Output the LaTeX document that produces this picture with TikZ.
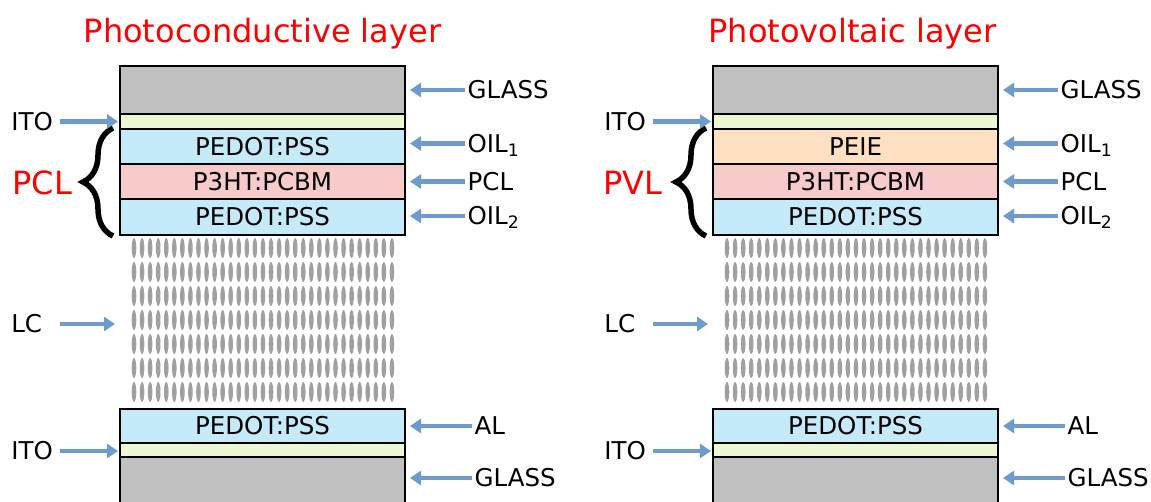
\documentclass[tikz,border=0pt]{standalone}
\usepackage{fontspec}
\setmainfont{DejaVu Sans}
\usetikzlibrary{arrows.meta, positioning, decorations.pathreplacing}
\definecolor{cglass}{HTML}{C0C0C0}
\definecolor{cito}{HTML}{EBF8D2}
\definecolor{cpedot}{HTML}{C5EBFA}
\definecolor{cpcbm}{HTML}{F8CBCB}
\definecolor{cpeie}{HTML}{FFE0C2}
\definecolor{carrow}{HTML}{6E9BCD}
\definecolor{clc}{HTML}{A0A0A0}
\definecolor{cred}{HTML}{FF0000}
\tikzset{
  every picture/.style={line width=1.3pt},
  layer/.style={draw=black, fill=#1, minimum width=285pt, inner sep=0pt, outer sep=0pt, font=\fontsize{24.5}{28}\selectfont},
  zone/.style={minimum width=285pt, inner sep=0pt, outer sep=0pt},
  arrow/.style={-{Triangle[length=11pt, width=14pt]}, draw=carrow, line width=4.5pt},
  tag/.style={font=\fontsize{24.5}{28}\selectfont, inner sep=2pt, text height=17.5pt, text depth=0pt},
  ltag/.style={tag, inner sep=0pt, text width=48pt, align=left},
  title/.style={font=\fontsize{32}{36}\selectfont, text=cred, inner sep=0pt},
  brace/.style={decorate, decoration={brace, amplitude=30pt}, line width=5.5pt},
}

\begin{document}
\begin{tikzpicture}[x=1pt, y=-1pt]
  \useasboundingbox (0,0) rectangle (1151,501);
  % photoconductive stack
  \begin{scope}
    \node[title, anchor=base] (pctitle) at (262.5,42.5) {Photoconductive layer};
    \node[layer=cglass, minimum height=48pt, anchor=north west] (pcglass) at (120,66) {};
    \node[layer=cito, minimum height=15pt, below=0pt of pcglass] (pcito) {};
    \node[layer=cpedot, minimum height=35pt, below=0pt of pcito] (pcoil1) {PEDOT:PSS};
    \node[layer=cpcbm, minimum height=35pt, below=0pt of pcoil1] (pcpcl) {P3HT:PCBM};
    \node[layer=cpedot, minimum height=36pt, below=0pt of pcpcl] (pcoil2) {PEDOT:PSS};
    \node[zone, minimum height=166pt, below=2pt of pcoil2] (pclc) {};
    \node[layer=cpedot, minimum height=34pt, below=6pt of pclc] (pcal) {PEDOT:PSS};
    \node[layer=cito, minimum height=14pt, below=0pt of pcal] (pcitob) {};
    \node[layer=cglass, minimum height=46pt, below=0pt of pcitob] (pcglassb) {};
    \foreach \r in {0,...,6}
      \foreach \c in {0,...,32}
        \fill[clc] ([xshift={14pt+\c*8.06pt}, yshift={-11pt-\r*24pt}]pclc.north west) ellipse (2.3pt and 10pt);
    \draw[brace] ([xshift=-7pt, yshift=-1pt]pcoil2.south west) -- ([xshift=-7pt, yshift=1pt]pcoil1.north west);
    \node[title, anchor=base west] (pcname) at (12,194) {PCL};
    % labels
    \node[tag, anchor=west] (pcglassr) at ([xshift=60pt]pcglass.east) {GLASS};
    \node[tag, anchor=west] (pcoil1r) at ([xshift=60pt, yshift=3pt]pcoil1.east) {OIL\textsubscript{1}};
    \node[tag, anchor=west] (pcpclr) at ([xshift=60pt]pcpcl.east) {PCL};
    \node[tag, anchor=west] (pcoil2r) at ([xshift=60pt, yshift=1pt]pcoil2.east) {OIL\textsubscript{2}};
    \node[tag, anchor=west] (pcalr) at ([xshift=67pt]pcal.east) {AL};
    \node[tag, anchor=west] (pcglassbr) at ([xshift=67pt, yshift=2pt]pcglassb.east) {GLASS};
    \node[ltag, anchor=east] (pcitol) at ([xshift=-60pt]pcito.west) {ITO};
    \node[ltag, anchor=east] (pclcl) at ([xshift=-60pt, yshift=-4pt]pclc.west) {LC};
    \node[ltag, anchor=east] (pcitobl) at ([xshift=-60pt, yshift=-1pt]pcitob.west) {ITO};
    \draw[arrow, shorten >=5pt] (pcglassr.west) -- (pcglassr.west -| pcglass.east);
    \draw[arrow, shorten >=5pt] (pcoil1r.west) -- (pcoil1r.west -| pcoil1.east);
    \draw[arrow, shorten >=5pt] (pcpclr.west) -- (pcpclr.west -| pcpcl.east);
    \draw[arrow, shorten >=5pt] (pcoil2r.west) -- (pcoil2r.west -| pcoil2.east);
    \draw[arrow, shorten >=5pt] (pcalr.west) -- (pcalr.west -| pcal.east);
    \draw[arrow, shorten >=5pt] (pcglassbr.west) -- (pcglassbr.west -| pcglassb.east);
    \draw[arrow, shorten >=2pt] (pcitol.east) -- (pcitol.east -| pcito.west);
    \draw[arrow, shorten >=5pt] (pclcl.east) -- (pclcl.east -| pclc.west);
    \draw[arrow, shorten >=2pt] (pcitobl.east) -- (pcitobl.east -| pcitob.west);
  \end{scope}
  % photovoltaic stack
  \begin{scope}[xshift=593pt]
    \node[title, anchor=base] (pvtitle) at (259.5,42.5) {Photovoltaic layer};
    \node[layer=cglass, minimum height=48pt, anchor=north west] (pvglass) at (120,66) {};
    \node[layer=cito, minimum height=15pt, below=0pt of pvglass] (pvito) {};
    \node[layer=cpeie, minimum height=35pt, below=0pt of pvito] (pvoil1) {PEIE};
    \node[layer=cpcbm, minimum height=35pt, below=0pt of pvoil1] (pvpcl) {P3HT:PCBM};
    \node[layer=cpedot, minimum height=36pt, below=0pt of pvpcl] (pvoil2) {PEDOT:PSS};
    \node[zone, minimum height=166pt, below=2pt of pvoil2] (pvlc) {};
    \node[layer=cpedot, minimum height=34pt, below=6pt of pvlc] (pval) {PEDOT:PSS};
    \node[layer=cito, minimum height=14pt, below=0pt of pval] (pvitob) {};
    \node[layer=cglass, minimum height=46pt, below=0pt of pvitob] (pvglassb) {};
    \foreach \r in {0,...,6}
      \foreach \c in {0,...,32}
        \fill[clc] ([xshift={14pt+\c*8.06pt}, yshift={-11pt-\r*24pt}]pvlc.north west) ellipse (2.3pt and 10pt);
    \draw[brace] ([xshift=-7pt, yshift=-1pt]pvoil2.south west) -- ([xshift=-7pt, yshift=1pt]pvoil1.north west);
    \node[title, anchor=base west] (pvname) at (10,194) {PVL};
    % labels
    \node[tag, anchor=west] (pvglassr) at ([xshift=60pt]pvglass.east) {GLASS};
    \node[tag, anchor=west] (pvoil1r) at ([xshift=60pt, yshift=3pt]pvoil1.east) {OIL\textsubscript{1}};
    \node[tag, anchor=west] (pvpclr) at ([xshift=60pt]pvpcl.east) {PCL};
    \node[tag, anchor=west] (pvoil2r) at ([xshift=60pt, yshift=1pt]pvoil2.east) {OIL\textsubscript{2}};
    \node[tag, anchor=west] (pvalr) at ([xshift=67pt]pval.east) {AL};
    \node[tag, anchor=west] (pvglassbr) at ([xshift=67pt, yshift=2pt]pvglassb.east) {GLASS};
    \node[ltag, anchor=east] (pvitol) at ([xshift=-60pt]pvito.west) {ITO};
    \node[ltag, anchor=east] (pvlcl) at ([xshift=-60pt, yshift=-4pt]pvlc.west) {LC};
    \node[ltag, anchor=east] (pvitobl) at ([xshift=-60pt, yshift=-1pt]pvitob.west) {ITO};
    \draw[arrow, shorten >=5pt] (pvglassr.west) -- (pvglassr.west -| pvglass.east);
    \draw[arrow, shorten >=5pt] (pvoil1r.west) -- (pvoil1r.west -| pvoil1.east);
    \draw[arrow, shorten >=5pt] (pvpclr.west) -- (pvpclr.west -| pvpcl.east);
    \draw[arrow, shorten >=5pt] (pvoil2r.west) -- (pvoil2r.west -| pvoil2.east);
    \draw[arrow, shorten >=5pt] (pvalr.west) -- (pvalr.west -| pval.east);
    \draw[arrow, shorten >=5pt] (pvglassbr.west) -- (pvglassbr.west -| pvglassb.east);
    \draw[arrow, shorten >=2pt] (pvitol.east) -- (pvitol.east -| pvito.west);
    \draw[arrow, shorten >=5pt] (pvlcl.east) -- (pvlcl.east -| pvlc.west);
    \draw[arrow, shorten >=2pt] (pvitobl.east) -- (pvitobl.east -| pvitob.west);
  \end{scope}
\end{tikzpicture}
\end{document}
